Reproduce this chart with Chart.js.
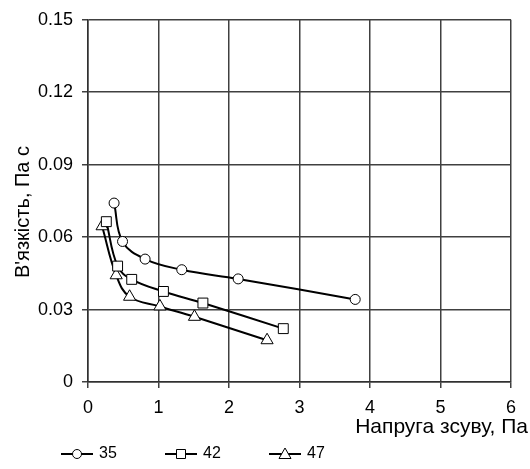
<!DOCTYPE html>
<html>
<head>
<meta charset="utf-8">
<script src="https://cdn.jsdelivr.net/npm/chart.js@4"></script>
<style>
  html, body { margin: 0; padding: 0; background: #fff; }
  #wrap { width: 530px; height: 469px; }
</style>
</head>
<body>
<div id="wrap"><canvas id="chart" width="530" height="469"></canvas></div>
<script>
// shear stress, Pa (x) and viscosity, Pa s (y)
var seriesNames = ['35', '42', '47'];
var x35 = [0.37, 0.49, 0.81, 1.33, 2.13, 3.79];
var y35 = [0.0741, 0.0582, 0.0509, 0.0465, 0.0427, 0.0342];
var x42 = [0.26, 0.42, 0.62, 1.07, 1.63, 2.77];
var y42 = [0.0664, 0.0480, 0.0425, 0.0375, 0.0327, 0.0221];
var x47 = [0.20, 0.40, 0.59, 1.02, 1.51, 2.54];
var y47 = [0.0645, 0.0442, 0.0353, 0.0313, 0.0270, 0.0173];
var markers = ['circle', 'rect', 'triangle'];
var markerSize = [5, 7, 7];
var xTitle = 'Напруга зсуву, Па';
var yTitle = 'В\'язкість, Па с';

function toPoints(xs, ys) {
    return xs.map(function(x, i) { return { x: x, y: ys[i] }; });
}

var FONT = 'Arial, "Liberation Sans", sans-serif';

var datasets = [[x35, y35], [x42, y42], [x47, y47]].map(function(s, i) {
    return {
        label: seriesNames[i],
        data: toPoints(s[0], s[1]),
        showLine: true,
        borderColor: '#000',
        borderWidth: 2,
        tension: 0.4,
        pointStyle: markers[i],
        pointRadius: markerSize[i],
        pointBorderWidth: 1,
        pointBorderColor: '#000',
        pointBackgroundColor: '#fff'
    };
});

// small marker for the legend
function legendMarker(ctx, style, x, y) {
    ctx.beginPath();
    if (style === 'circle') {
        ctx.arc(x, y, 4.5, 0, Math.PI * 2);
    } else if (style === 'rect') {
        ctx.rect(x - 4.5, y - 4.5, 9, 9);
    } else {
        ctx.moveTo(x, y - 6);
        ctx.lineTo(x + 6, y + 4.5);
        ctx.lineTo(x - 6, y + 4.5);
        ctx.closePath();
    }
    ctx.fill();
    ctx.stroke();
}

// titles and legend drawn where the original puts them
var extras = {
    id: 'extras',
    afterDraw: function(chart) {
        var ctx = chart.ctx;
        ctx.save();
        ctx.fillStyle = '#000';
        ctx.font = '21px ' + FONT;
        ctx.textAlign = 'right';
        ctx.textBaseline = 'middle';
        ctx.fillText(xTitle, 528, 427);

        ctx.save();
        ctx.font = '20px ' + FONT;
        ctx.translate(23, 212);
        ctx.rotate(-Math.PI / 2);
        ctx.textAlign = 'center';
        ctx.fillText(yTitle, 0, 0);
        ctx.restore();

        ctx.font = '16px ' + FONT;
        ctx.textAlign = 'left';
        chart.data.datasets.forEach(function(ds, i) {
            var x0 = 61 + i * 104, y0 = 454;
            ctx.strokeStyle = '#000';
            ctx.lineWidth = 2;
            ctx.beginPath();
            ctx.moveTo(x0, y0);
            ctx.lineTo(x0 + 32, y0);
            ctx.stroke();
            ctx.fillStyle = '#fff';
            ctx.lineWidth = 1;
            legendMarker(ctx, ds.pointStyle, x0 + 16, y0);
            ctx.fillStyle = '#000';
            ctx.fillText(ds.label, x0 + 38, y0);
        });
        ctx.restore();
    }
};

var gridOpts = {
    color: '#404040',
    lineWidth: 1.5,
    tickLength: 6,
    tickColor: '#404040'
};

new Chart(document.getElementById('chart').getContext('2d'), {
    type: 'scatter',
    data: { datasets: datasets },
    plugins: [extras],
    options: {
        responsive: false,
        animation: false,
        layout: { padding: { top: 10, right: 19, left: 0, bottom: 0 } },
        plugins: {
            legend: { display: false },
            tooltip: { enabled: false }
        },
        scales: {
            x: {
                type: 'linear',
                min: 0,
                max: 6,
                afterFit: function(scale) { scale.height = 87; },
                ticks: {
                    stepSize: 1,
                    padding: 9,
                    color: '#000',
                    font: { family: FONT, size: 18 }
                },
                grid: gridOpts,
                border: { color: '#303030', width: 1.5 }
            },
            y: {
                type: 'linear',
                min: 0,
                max: 0.15,
                afterFit: function(scale) { scale.width = 88; },
                ticks: {
                    stepSize: 0.03,
                    padding: 9,
                    color: '#000',
                    font: { family: FONT, size: 18 },
                    callback: function(v) { return v === 0 ? '0' : v.toFixed(2); }
                },
                grid: gridOpts,
                border: { color: '#303030', width: 1.5 }
            }
        }
    }
});
</script>
</body>
</html>
